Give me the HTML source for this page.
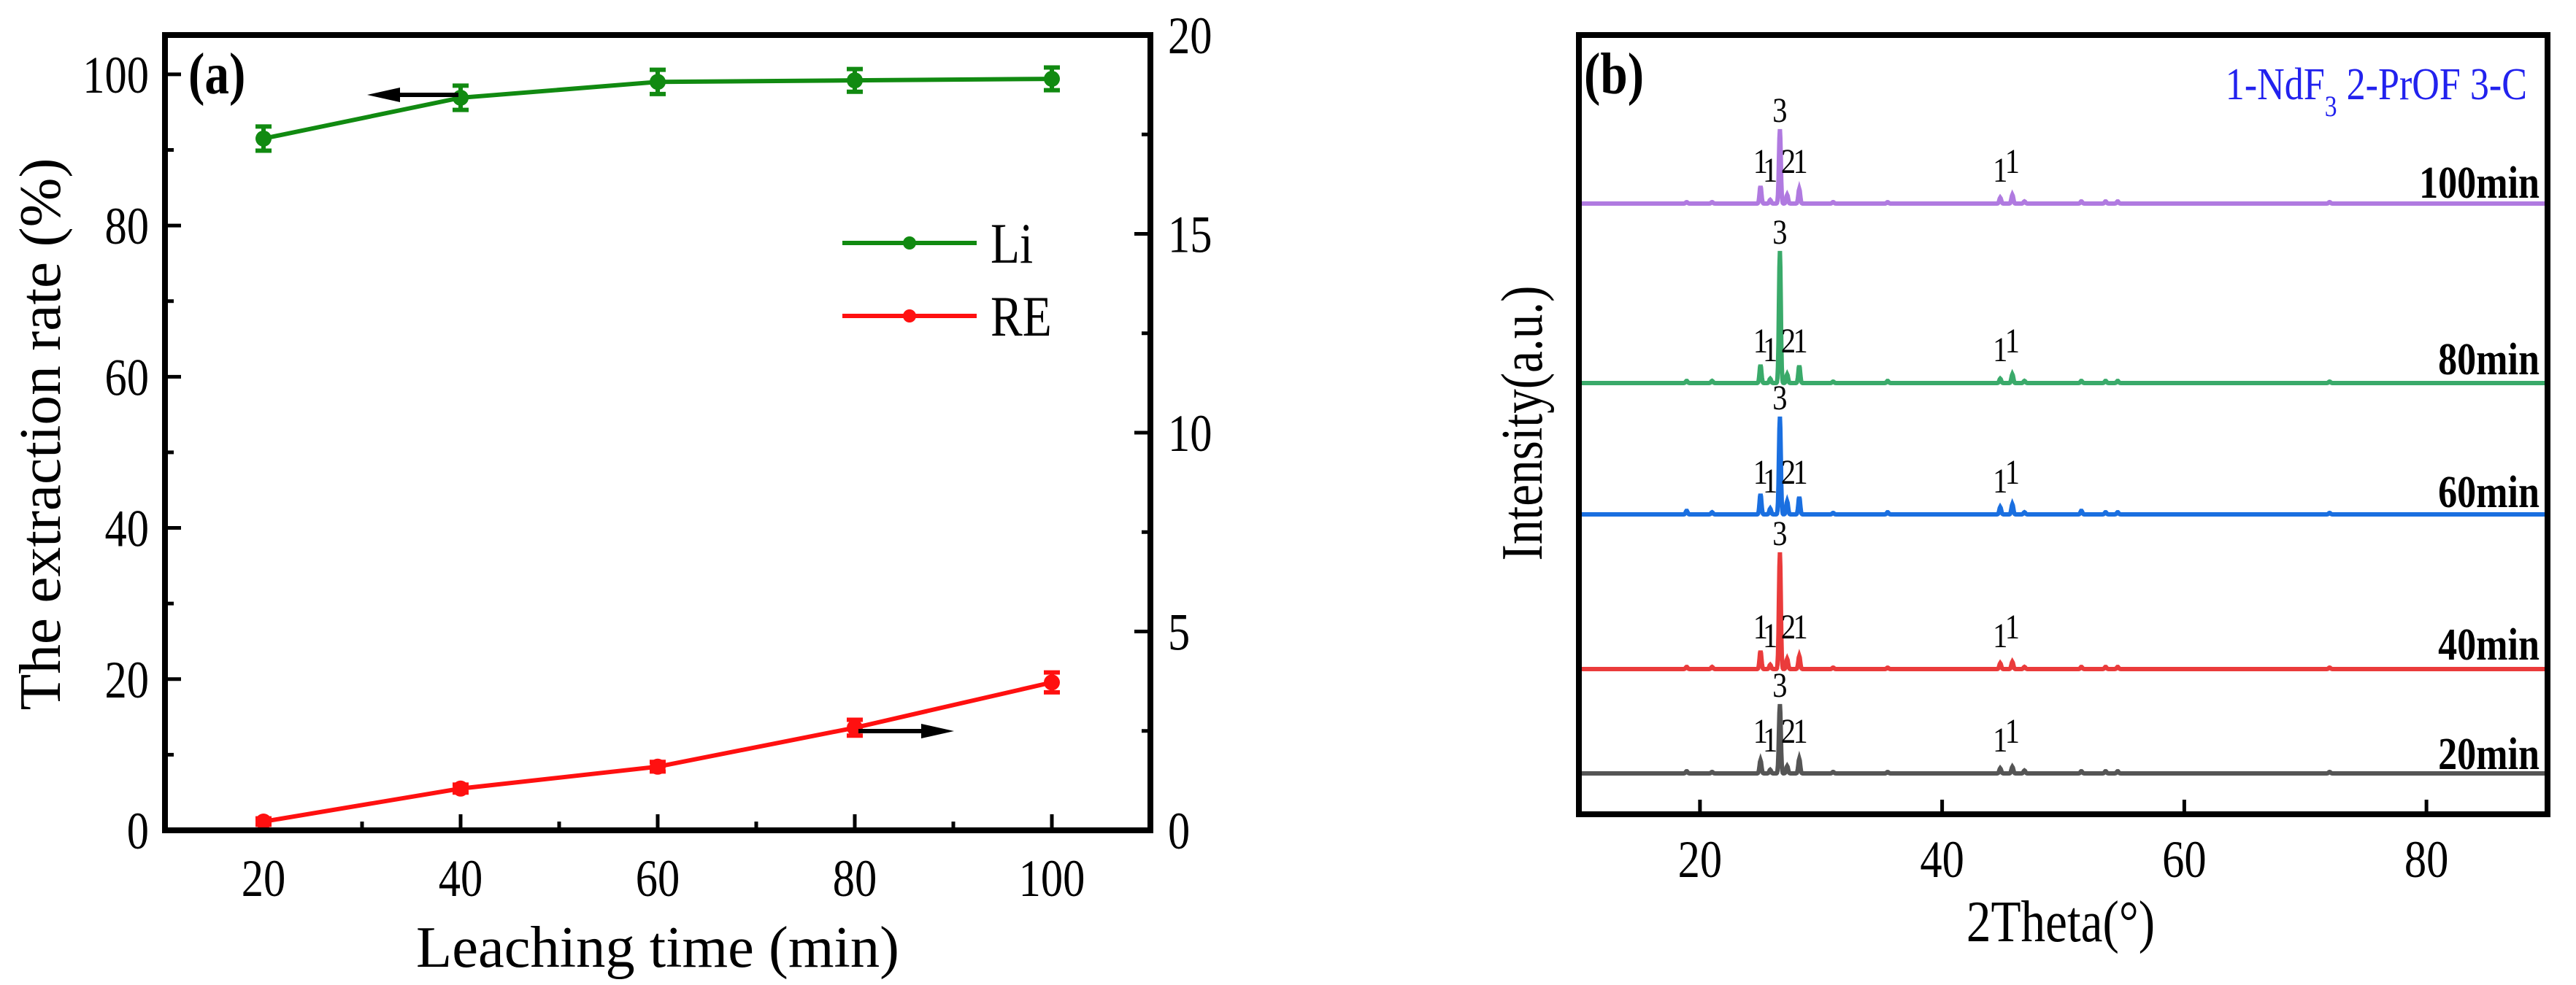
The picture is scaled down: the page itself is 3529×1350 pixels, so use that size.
<!DOCTYPE html>
<html><head><meta charset="utf-8"><style>
html,body{margin:0;padding:0;background:#fff;}
svg{display:block;font-family:"Liberation Serif","DejaVu Serif",serif;}
</style></head><body>
<svg id="fig" width="3529" height="1350" viewBox="0 0 3529 1350" xmlns="http://www.w3.org/2000/svg">
<g id="pa"></g>
<g id="pb"></g>
</svg>
<script>
// ---- Panel (a) data ----
const timeCats = [20, 40, 60, 80, 100];
const liValues = [91.5, 96.9, 99.0, 99.2, 99.4];
const liErr = [1.6, 1.6, 1.6, 1.5, 1.5];
const reValues = [0.22, 1.05, 1.6, 2.58, 3.72];
const reErr = [0.08, 0.1, 0.12, 0.2, 0.25];
const xTicksA = [20, 40, 60, 80, 100];
const yTicksLeft = [0, 20, 40, 60, 80, 100];
const yTicksRight = [0, 5, 10, 15, 20];
// ---- Panel (b) data ----
const thetaTicks = [20, 40, 60, 80];
const sampleNames = ["100min", "80min", "60min", "40min", "20min"];
const peakPos = [18.9, 21.0, 25.0, 25.8, 26.6, 27.2, 28.2, 31.0, 35.5, 44.8, 45.8, 46.8, 51.5, 53.5, 54.5, 72.0];
const peaks100 = [2, 2, 24, 5, 102, 12, 20, 2, 2, 8, 12, 3, 3, 3, 3, 2];
const peaks80 = [3, 3, 25, 6, 181, 12, 24, 2, 3, 6, 12, 3, 3, 3, 3, 2];
const peaks60 = [5, 3, 28, 8, 134, 18, 24, 2, 3, 10, 14, 3, 5, 3, 3, 2];
const peaks40 = [3, 3, 25, 6, 160, 14, 18, 2, 2, 8, 10, 3, 3, 3, 3, 2];
const peaks20 = [3, 2, 18, 5, 95, 10, 20, 2, 2, 7, 9, 4, 3, 3, 3, 2];
const peakLabelPos = [25.0, 25.8, 26.6, 27.3, 28.3, 44.8, 45.8];
const peakLabelText = ["1", "1", "3", "2", "1", "1", "1"];

const NS = "http://www.w3.org/2000/svg";
function mk(parent, tag, attrs, text) {
  const e = document.createElementNS(NS, tag);
  for (const k in attrs) e.setAttribute(k, attrs[k]);
  if (text !== undefined) e.textContent = text;
  parent.appendChild(e);
  return e;
}

// ===== Panel A =====
const pa = document.getElementById('pa');
const AX0 = 226, AX1 = 1576, AY0 = 48, AY1 = 1138;
const xA = v => AX0 + (v - 10) / 100 * (AX1 - AX0);
const yL = v => AY1 - v / 105.2 * (AY1 - AY0);
const yR = v => AY1 - v / 20 * (AY1 - AY0);

let t;
for (let v = 10; v <= 110; v += 10) {
  t = mk(pa, 'line', {x1: xA(v), x2: xA(v), y1: AY1, y2: AY1 - (v % 20 === 0 ? 22 : 12), stroke: '#000', 'stroke-width': 5});
   
}
for (let v = 0; v <= 100; v += 10) {
  t = mk(pa, 'line', {x1: AX0, x2: AX0 + (v % 20 === 0 ? 22 : 12), y1: yL(v), y2: yL(v), stroke: '#000', 'stroke-width': 5});
   
}
for (let v = 0; v <= 20; v += 2.5) {
  t = mk(pa, 'line', {x1: AX1, x2: AX1 - (v % 5 === 0 ? 22 : 12), y1: yR(v), y2: yR(v), stroke: '#000', 'stroke-width': 5});
   
}
xTicksA.forEach(v => {
  t = mk(pa, 'text', {x: xA(v), y: 1228, 'font-size': 72, 'text-anchor': 'middle', 'class': 'sq'}, String(v));
   
});
yTicksLeft.forEach(v => {
  t = mk(pa, 'text', {x: 204, y: yL(v) + 25, 'font-size': 72, 'text-anchor': 'end', 'class': 'sq'}, String(v));
   
});
yTicksRight.forEach(v => {
  t = mk(pa, 'text', {x: 1600, y: yR(v) + 25, 'font-size': 72, 'text-anchor': 'start', 'class': 'sq'}, String(v));
   
});
t = mk(pa, 'text', {x: 901, y: 1325, 'font-size': 80, 'text-anchor': 'middle', textLength: 662, lengthAdjust: 'spacingAndGlyphs'}, 'Leaching time (min)');
 
t = mk(pa, 'text', {x: 0, y: 0, 'font-size': 80, 'text-anchor': 'middle', transform: 'translate(82,595) rotate(-90)', textLength: 757, lengthAdjust: 'spacingAndGlyphs'}, 'The extraction rate (%)');
 
t = mk(pa, 'text', {x: 258, y: 128, 'font-size': 80, 'font-weight': 'bold', 'class': 'sq'}, '(a)');
 

function series(vals, errs, yf, color, name) {
  const g = mk(pa, 'g', {});
   
  const pts = timeCats.map((c, i) => xA(c) + ',' + yf(vals[i])).join(' ');
  const pl = mk(g, 'polyline', {points: pts, fill: 'none', stroke: color, 'stroke-width': 6});
   
  timeCats.forEach((c, i) => {
    const x = xA(c), y1 = yf(vals[i] + errs[i]), y2 = yf(vals[i] - errs[i]);
    const e = mk(g, 'path', {d: `M${x-11},${y1}H${x+11}M${x},${y1}V${y2}M${x-11},${y2}H${x+11}`, stroke: color, 'stroke-width': 6, fill: 'none'});
     
    const p = mk(g, 'circle', {cx: x, cy: yf(vals[i]), r: 11, fill: color});
     
  });
}
series(liValues, liErr, yL, '#118a11', 'li');
series(reValues, reErr, yR, '#ff1010', 're');

// arrows
t = mk(pa, 'path', {d: 'M628,130H540', stroke: '#000', 'stroke-width': 6});
 
t = mk(pa, 'polygon', {points: '503,130 548,120 548,140', fill: '#000'});
 
t = mk(pa, 'path', {d: 'M1176,1002H1270', stroke: '#000', 'stroke-width': 6});
 
t = mk(pa, 'polygon', {points: '1307,1002 1262,992 1262,1012', fill: '#000'});
 

// legend
const lg = mk(pa, 'g', {});
 
[['Li', '#118a11', 333], ['RE', '#ff1010', 433]].forEach(([n, c, y]) => {
  const e = mk(lg, 'g', {});
   
  mk(e, 'line', {x1: 1154, x2: 1338, y1: y, y2: y, stroke: c, 'stroke-width': 6});
  mk(e, 'circle', {cx: 1246, cy: y, r: 9, fill: c});
  mk(e, 'text', {x: 1357, y: y + 27, 'font-size': 78, 'class': 'sq'}, n);
});

t = mk(pa, 'rect', {x: AX0, y: AY0, width: AX1 - AX0, height: AY1 - AY0, fill: 'none', stroke: '#000', 'stroke-width': 8});
 

// ===== Panel B =====
const pb = document.getElementById('pb');
const BX0 = 2163, BX1 = 3490, BY0 = 48, BY1 = 1116;
const xB = v => BX0 + (v - 10) / 80 * (BX1 - BX0);
const patterns = [peaks100, peaks80, peaks60, peaks40, peaks20];
const baselines = [279, 525, 705, 917, 1060];
const colors = ['#b07ae0', '#3aaa6a', '#1a6fe0', '#ea3b3b', '#555555'];
const nameY = [249, 491, 673, 882, 1032];

thetaTicks.forEach(v => {
  t = mk(pb, 'line', {x1: xB(v), x2: xB(v), y1: BY1, y2: BY1 - 20, stroke: '#000', 'stroke-width': 5});
   
  t = mk(pb, 'text', {x: xB(v), y: 1202, 'font-size': 72, 'text-anchor': 'middle', 'class': 'sq'}, String(v));
   
});

patterns.forEach((pk, si) => {
  const g = mk(pb, 'g', {});
   
  const base = baselines[si];
  let d = '';
  for (let x = 10.2; x <= 89.9; x += 0.04) {
    let h = 0;
    peakPos.forEach((p, k) => { const z = (x - p) / 0.11; h += pk[k] * Math.exp(-z * z); });
    d += (d ? 'L' : 'M') + xB(x).toFixed(1) + ',' + (base - h).toFixed(1);
  }
  const path = mk(g, 'path', {d: d, fill: 'none', stroke: colors[si], 'stroke-width': 6});
   
  peakLabelPos.forEach((p, k) => {
    const idx = peakPos.findIndex(q => Math.abs(q - p) < 0.25);
    const h = idx >= 0 ? pk[idx] : 0;
    const off = peakLabelText[k] === '3' ? h + 10 : Math.max(h + 10, (k === 1 || k === 5) ? 30 : 42);
    const lb = mk(g, 'text', {x: xB(p), y: base - off, 'font-size': 48, 'text-anchor': 'middle', 'class': 'sq'}, peakLabelText[k]);
     
  });
  const nm = mk(g, 'text', {x: 3479, y: nameY[si] + 22, 'font-size': 62, 'font-weight': 'bold', 'text-anchor': 'end', 'class': 'sq'}, sampleNames[si]);
   
});

t = mk(pb, 'text', {x: 3462, y: 136, 'font-size': 62, fill: '#2222ee', 'text-anchor': 'end', 'class': 'sq'});
 
t.innerHTML = '1-NdF<tspan baseline-shift="sub" font-size="40">3</tspan> 2-PrOF 3-C';
t = mk(pb, 'text', {x: 2170, y: 128, 'font-size': 80, 'font-weight': 'bold', 'class': 'sq'}, '(b)');
 
t = mk(pb, 'text', {x: 2823, y: 1290, 'font-size': 80, 'text-anchor': 'middle', 'class': 'sq'}, '2Theta(°)');
 
t = mk(pb, 'text', {x: 0, y: 0, 'font-size': 80, 'text-anchor': 'middle', transform: 'translate(2112,580) rotate(-90)', 'class': 'sq'}, 'Intensity(a.u.)');
 
t = mk(pb, 'rect', {x: BX0, y: BY0, width: BX1 - BX0, height: BY1 - BY0, fill: 'none', stroke: '#000', 'stroke-width': 8});
 

// horizontally condense text to match the reference's narrow glyphs
document.querySelectorAll('text.sq').forEach(el => {
  const L = el.getComputedTextLength();
  if (L > 0) { el.setAttribute('textLength', (L * 0.84).toFixed(1)); el.setAttribute('lengthAdjust', 'spacingAndGlyphs'); }
});
</script>
</body></html>
